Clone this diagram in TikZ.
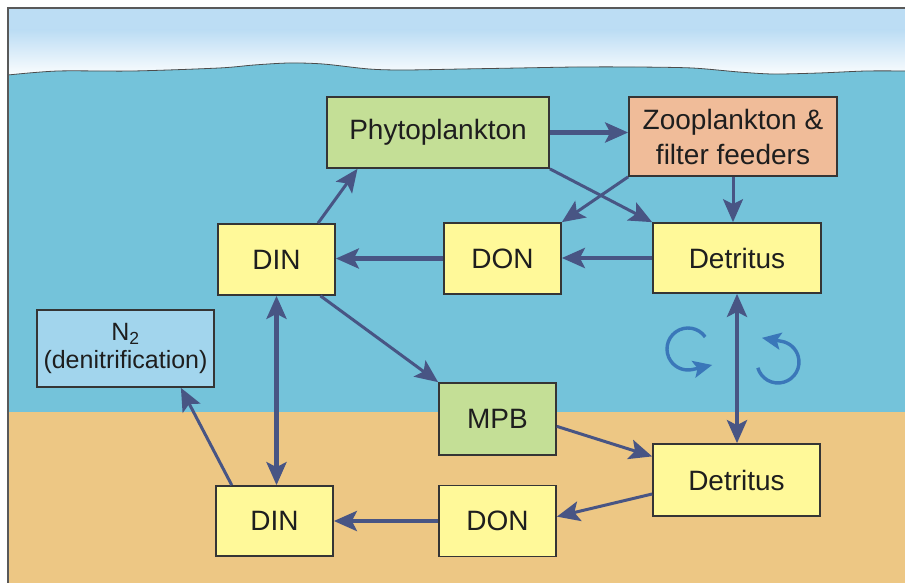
\documentclass[tikz,border=0pt]{standalone}
\usepackage{fontspec}
\setmainfont{Liberation Sans}
\usetikzlibrary{arrows.meta,calc}

\definecolor{skytop}{HTML}{BCDDF4}
\definecolor{water}{HTML}{74C3DA}
\definecolor{sediment}{HTML}{EDC784}
\definecolor{boxyellow}{HTML}{FFF999}
\definecolor{boxgreen}{HTML}{C4DF96}
\definecolor{boxsalmon}{HTML}{F0BC99}
\definecolor{boxblue}{HTML}{A2D5ED}
\definecolor{flow}{HTML}{485584}
\definecolor{swirl}{HTML}{3A77B9}
\definecolor{ink}{HTML}{1E1E1E}

\begin{document}
\begin{tikzpicture}[x=1pt,y=-1pt,
  >={Stealth[length=23pt,width=20pt,inset=5pt]},
  pool/.style={draw=ink!90, line width=1.7pt, inner sep=0pt, text=ink,
    font=\fontsize{28}{35}\selectfont, align=center},
  flux/.style={draw=flow, line width=3pt, ->},
  bigflux/.style={flux, line width=4.2pt},
  turn/.style={draw=swirl, line width=3.4pt,
    -{Stealth[length=19pt,width=17pt,inset=4pt]}}
]
\useasboundingbox (0,0) rectangle (905,583);

% sky, water and sediment
\fill[white] (0,0) rectangle (905,583);
\fill[skytop] (8,8) rectangle (905,30);
\shade[top color=skytop, bottom color=white] (8,30) rectangle (905,78);
\fill[water] plot[smooth] coordinates {(8,75) (58,71) (133,71) (219,68)
  (254,65) (289,63) (323,64) (369,69) (404,70) (462,69) (519,68) (577,67)
  (635,67) (692,68) (739,72) (773,74) (819,73) (866,71) (905,71)}
  -- (905,412) -- (8,412) -- cycle;
\draw[black!70, line width=0.8pt] plot[smooth] coordinates {(8,75) (58,71)
  (133,71) (219,68) (254,65) (289,63) (323,64) (369,69) (404,70) (462,69)
  (519,68) (577,67) (635,67) (692,68) (739,72) (773,74) (819,73) (866,71)
  (905,71)};
\fill[sediment] (8,412) rectangle (905,583);
\draw[black!65, line width=1.5pt] (8,583) -- (8,8) -- (905,8);

% nitrogen pools
\node[pool, fill=boxgreen, minimum width=222pt, minimum height=71pt]
  (phyto) at (438,132.5) {Phytoplankton};
\node[pool, fill=boxsalmon, minimum width=208pt, minimum height=79pt]
  (zoo) at (733,136.5) {Zooplankton \&\\filter feeders};
\node[pool, fill=boxyellow, minimum width=168pt, minimum height=70pt]
  (detU) at (737,258) {Detritus};
\node[pool, fill=boxyellow, minimum width=117pt, minimum height=71pt]
  (donU) at (502.5,258.5) {DON};
\node[pool, fill=boxyellow, minimum width=117pt, minimum height=71pt]
  (dinU) at (276.5,259.5) {DIN};
\node[pool, fill=boxblue, minimum width=177pt, minimum height=77pt,
  font=\fontsize{25}{28}\selectfont]
  (nitro) at (125.5,348.5) {N\textsubscript{2}\\(denitrification)};
\node[pool, fill=boxgreen, minimum width=117pt, minimum height=72pt]
  (mpb) at (497.5,419) {MPB};
\node[pool, fill=boxyellow, minimum width=167pt, minimum height=72pt]
  (detL) at (736.5,480) {Detritus};
\node[pool, fill=boxyellow, minimum width=117pt, minimum height=71pt]
  (donL) at (497.5,521) {DON};
\node[pool, fill=boxyellow, minimum width=117pt, minimum height=70pt]
  (dinL) at (274.5,521) {DIN};

% fluxes
\draw[bigflux] (phyto.east) -- (phyto.east -| zoo.west);
\draw[flux] (phyto.south east) -- (detU.north west);
\draw[flux] (zoo.south west) -- (donU.north east);
\draw[flux] (zoo.south) -- (zoo.south |- detU.north);
\draw[bigflux] (detU.west) -- (detU.west -| donU.east);
\draw[bigflux] (donU.west) -- (donU.west -| dinU.east);
\draw[flux] ($(dinU.north west)!0.85!(dinU.north east)$)
  -- ($(phyto.south west)!0.14!(phyto.south east)$);
\draw[flux] ($(dinU.south west)!0.87!(dinU.south east)$) -- (mpb.north west);
\draw[bigflux, <->] (dinU.south) -- (dinU.south |- dinL.north);
\draw[flux] ($(dinL.north west)!0.14!(dinL.north east)$)
  -- ($(nitro.south west)!0.81!(nitro.south east)$);
\draw[bigflux, <->] (detU.south) -- (detU.south |- detL.north);
\draw[flux] ($(mpb.north east)!0.6!(mpb.south east)$)
  -- ($(detL.north west)!0.18!(detL.south west)$);
\draw[flux] ($(detL.north west)!0.69!(detL.south west)$)
  -- ($(donL.north east)!0.44!(donL.south east)$);
\draw[bigflux] (donL.west) -- (donL.west -| dinL.east);

% resuspension swirls
\coordinate (swirlL) at (688,349);
\coordinate (swirlR) at (778,362);
\draw[turn] ($(swirlL)+(35:21pt)$) arc[start angle=35, end angle=283, radius=21pt]
  -- ++(13:20pt);
\draw[turn] ($(swirlR)+(196:21pt)$) arc[start angle=196, end angle=440, radius=21pt]
  -- ++(170:20pt);
\end{tikzpicture}
\end{document}
